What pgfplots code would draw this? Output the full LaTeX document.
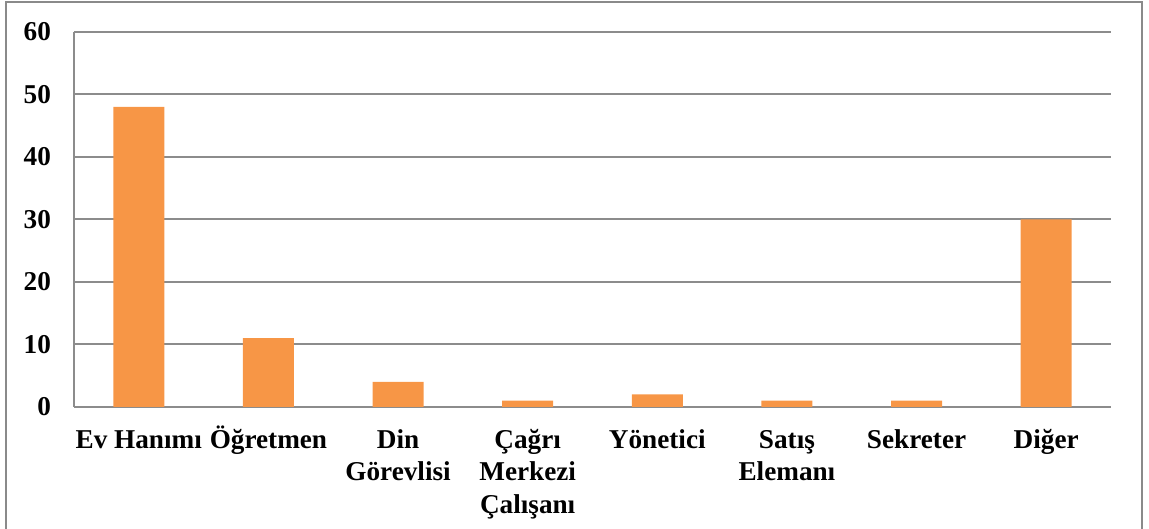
\documentclass[border=0pt]{standalone}
\usepackage{fontspec}
\setmainfont{Liberation Serif}
\usepackage{pgfplots}
\pgfplotsset{compat=1.18}
\definecolor{barorange}{HTML}{F79646}
\definecolor{gridgray}{HTML}{8C8C8C}
\definecolor{framegray}{HTML}{8A8A8A}
\newcommand\Lh{\rule{0pt}{12.5pt}}
\begin{document}
\begin{tikzpicture}
\useasboundingbox (0,0) rectangle (574.5pt,264.5pt);
\draw[framegray, line width=1pt] (3pt,-5pt) rectangle (571pt,263.5pt);
\begin{axis}[
  at={(37pt,61pt)}, anchor=south west,
  scale only axis,
  width=518.5pt, height=187.5pt,
  xmin=-0.5, xmax=7.5,
  ymin=0, ymax=60,
  ytick={0,10,...,60},
  xtick=data,
  xticklabels={\Lh Ev Hanımı,\Lh Öğretmen,\Lh Din\\Görevlisi,\Lh Çağrı\\Merkezi\\Çalışanı,\Lh Yönetici,\Lh Satış\\Elemanı,\Lh Sekreter,\Lh Diğer},
  axis x line*=bottom,
  axis y line*=left,
  axis line style={gridgray, line width=0.6pt},
  ymajorgrids,
  grid style={gridgray, line width=1pt},
  major tick length=0pt,
  tick style={draw=none},
  /pgf/number format/assume math mode=true,
  yticklabel style={font=\fontsize{13.6}{15.5}\selectfont\bfseries, xshift=-8pt},
  xticklabel style={font=\fontsize{13.6}{16.2}\selectfont\bfseries, align=center, anchor=north, inner sep=0pt, yshift=-7.9pt, text depth=0pt},
  ybar,
  bar width=0.3935,
  enlarge x limits=false,
]
\addplot[fill=barorange, draw=none] coordinates {(0,48) (1,11) (2,4) (3,1) (4,2) (5,1) (6,1) (7,30)};
\end{axis}
\end{tikzpicture}
\end{document}
